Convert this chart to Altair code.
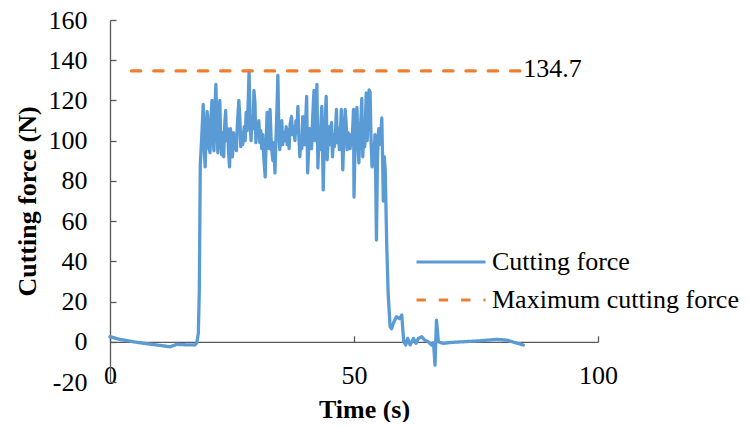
import altair as alt
import pandas as pd

# ---- data ----
time_s = [0, 2, 4.8, 7, 9.6, 12.3, 13.7, 15.5, 17.4, 17.8, 18.1, 18.3, 18.5, 18.8,
          19.1, 19.3, 19.5, 19.7, 19.9, 20.1, 20.3, 20.5, 20.7, 20.9, 21.1, 21.3, 21.5, 21.7, 21.9,
          22.1, 22.3, 22.5, 22.7, 22.9, 23.1, 23.3, 23.5, 23.7, 23.9, 24.1, 24.3, 24.5, 24.7, 24.9,
          25.1, 25.3, 25.5, 25.7, 25.9, 26.1, 26.4, 26.6, 26.8, 27.0, 27.2, 27.5, 27.7, 27.9,
          28.1, 28.3, 28.5, 28.7, 28.9, 29.1, 29.3, 29.5, 29.7, 29.9, 30.1, 30.3, 30.5, 30.7, 30.9,
          31.1, 31.3, 31.5, 31.8, 32.0, 32.2, 32.4, 32.6, 32.8, 33.0, 33.2, 33.4, 33.6, 33.8,
          34.0, 34.2, 34.4, 34.6, 34.8, 35.0, 35.2, 35.4, 35.6, 35.9, 36.1, 36.3, 36.5, 36.7, 36.9,
          37.2, 37.4, 37.6, 37.9, 38.1, 38.3, 38.5, 38.7, 38.9, 39.1, 39.3, 39.5, 39.7, 39.9,
          40.1, 40.3, 40.5, 40.7, 40.9, 41.1, 41.3, 41.5, 41.8, 42.0, 42.2, 42.4, 42.6, 42.8,
          43.0, 43.2, 43.4, 43.7, 43.9, 44.1, 44.3, 44.5, 44.7, 44.9, 45.1, 45.4, 45.6, 45.8,
          46.0, 46.2, 46.4, 46.6, 46.8, 47.0, 47.2, 47.4, 47.7, 47.9, 48.2, 48.4, 48.6, 48.8,
          49.0, 49.2, 49.4, 49.6, 49.9, 50.0, 50.2, 50.4, 50.6, 50.8, 51.0, 51.2, 51.4, 51.6, 51.8,
          52.0, 52.2, 52.5, 52.7, 52.9, 53.1, 53.3, 53.5, 53.7, 53.9, 54.1, 54.3, 54.5, 54.6, 54.8,
          55.0, 55.1, 55.3, 55.5, 55.7, 55.9, 56.0, 56.2, 56.4, 56.7, 57.0, 57.4, 57.7, 58.2, 58.7,
          59.3, 59.8, 60.0, 60.2, 60.6, 61.0, 61.5, 62.2, 62.7, 63.2, 63.9, 64.5, 65.2, 65.9,
          66.3, 66.6, 66.9, 67.3, 68.3, 70.0, 72.4, 75.8, 79.2, 81.3, 84.7]
force_n = [2.5, 1.2, 0, -0.8, -1.6, -2.5, -1.3, -1.5, -1.6, -0.5, 4.2, 25, 88, 102,
           118, 96, 87, 104, 114.5, 108, 96, 94, 112, 120, 103, 95, 116, 128, 108,
           94, 110, 120, 100, 93, 104, 92, 108, 115, 100, 106, 94, 87, 106, 98,
           92, 104, 96, 103, 95, 108, 120, 112, 97, 104, 98, 107, 100, 114,
           105, 118, 134.7, 110, 100, 112, 106, 125, 119, 99, 107, 104, 110, 99, 105,
           96, 103, 92, 82, 100, 114, 104, 96, 115.5, 102, 94, 90, 99, 84,
           100, 115, 132.5, 104, 95.5, 104, 110, 98, 104, 100, 107, 98, 105.5, 96, 108,
           112, 103, 107, 100, 110, 104, 117, 102, 92, 100, 96, 112, 109, 98,
           110, 122, 84, 95, 106, 102, 96, 110, 125, 100, 110, 128, 86.5, 100,
           95.5, 108, 117, 75.5, 100, 110, 122, 90.5, 100, 107, 98, 109, 92, 103,
           97, 104, 115.5, 99, 106, 95.5, 104, 115.5, 85.5, 100, 115.5, 108, 95.5, 104,
           100.5, 96, 103, 99, 115.5, 72, 95, 110, 116.5, 100, 89, 104, 110, 121, 92,
           104, 97, 123.7, 100, 112, 125.3, 124, 100, 87, 98, 92, 103, 72, 50.6, 90,
           104, 106, 98, 104, 111.3, 85, 70, 92, 85, 49, 24, 7.5, 6.5, 10, 12.5,
           11.5, 13.3, 6, 0, -1.6, 1.7, -1.6, 1.7, -0.8, 1.7, 2.5, 0.8, 0, -1.6,
           -0.5, -11.6, 10.8, 0, -0.8, -0.3, 0, 0.5, 1.2, 0.8, -1.6]
max_time = [4.4, 84.7]
max_force = [134.7, 134.7]
series = ["Cutting force", "Maximum cutting force"]
colors = ["#5B9BD5", "#ED7D31"]
x_ticks = [0, 50, 100]
y_ticks = [-20, 0, 20, 40, 60, 80, 100, 120, 140, 160]

FONT = "Liberation Serif"
AX = "#595959"

df_force = pd.DataFrame({"t": time_s, "f": force_n, "s": series[0]})
df_max = pd.DataFrame({"t": max_time, "f": max_force, "s": series[1]})
lines_df = pd.concat([df_force, df_max], ignore_index=True)
label_df = pd.DataFrame({"t": [max_time[-1]], "f": [max_force[-1]], "txt": [f"{max_force[-1]}"]})

xscale = alt.Scale(domain=[x_ticks[0], x_ticks[-1]], nice=False, zero=False)
yscale = alt.Scale(domain=[y_ticks[0], y_ticks[-1]], nice=False, zero=False)

# legend symbol: a long horizontal stroke drawn as a custom path (3x the symbol box)
legend = alt.Legend(
    title=None, orient="none", legendX=328, legendY=229, direction="vertical",
    symbolType="M-3,0H3", symbolSize=529, symbolStrokeWidth=3,
    labelFont=FONT, labelFontSize=26, labelColor="black", labelOffset=28,
    rowPadding=12, padding=0, labelLimit=500,
)

lines = alt.Chart(lines_df).mark_line(strokeWidth=3.3, strokeCap="round", strokeJoin="round").encode(
    x=alt.X("t:Q", scale=xscale,
            axis=alt.Axis(orient="bottom", values=x_ticks, domain=False, ticks=False, tickSize=0,
                          grid=False, labelFont=FONT, labelFontSize=26, labelColor="black",
                          labelBaseline="alphabetic", labelPadding=1, labelFlush=False,
                          labelOverlap=False, labelExpr="'' + datum.value",
                          title="Time (s)", titleFont=FONT, titleFontSize=26,
                          titleFontWeight="bold", titleColor="black", titleX=254, titleY=35,
                          titleBaseline="alphabetic", titleAlign="center")),
    y=alt.Y("f:Q", scale=yscale,
            axis=alt.Axis(orient="left", values=y_ticks, domain=False, ticks=False, tickSize=0,
                          grid=False, labelFont=FONT, labelFontSize=26, labelColor="black",
                          labelPadding=23, labelOverlap=False, labelFlush=False,
                          labelExpr="'' + datum.value",
                          title="Cutting force (N)", titleFont=FONT, titleFontSize=26,
                          titleFontWeight="bold", titleColor="black", titleX=-75, titleY=181,
                          titleAngle=270, titleBaseline="alphabetic", titleAlign="center")),
    color=alt.Color("s:N", scale=alt.Scale(domain=series, range=colors), legend=legend),
    strokeDash=alt.StrokeDash("s:N", scale=alt.Scale(domain=series, range=[[1, 0], [9.3, 13]]),
                              legend=legend),
)

label = alt.Chart(label_df).mark_text(align="left", baseline="middle", dy=-2, font=FONT,
                                      fontSize=26, color="black").encode(
    x=alt.X("t:Q", scale=xscale,
            axis=alt.Axis(orient="top", values=x_ticks, offset=-321.8, domain=True, domainColor=AX,
                          domainWidth=1.3, ticks=True, tickSize=6, tickColor=AX, tickWidth=1.3,
                          labels=False, grid=False, title=None)),
    y=alt.Y("f:Q", scale=yscale,
            axis=alt.Axis(orient="right", values=y_ticks, offset=-488, domain=True, domainColor=AX,
                          domainWidth=1.3, ticks=True, tickSize=6, tickColor=AX, tickWidth=1.3,
                          labels=False, grid=False, title=None)),
    text="txt:N",
)

chart = alt.layer(lines, label).resolve_axis(x="independent", y="independent").properties(
    width=488, height=362,
    autosize=alt.AutoSizeParams(type="none"),
    padding={"left": 102, "top": 12, "right": 143, "bottom": 40},
).configure_view(stroke=None)

chart.save("out.html", embed_options={"renderer": "svg", "actions": False})
